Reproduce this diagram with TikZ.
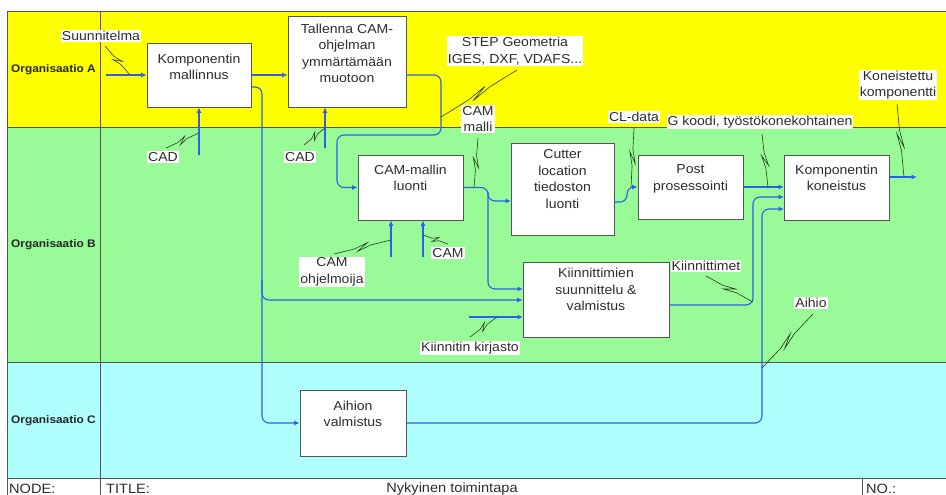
\documentclass[tikz,border=0pt]{standalone}
\usepackage{fontspec}
\setmainfont[FakeStretch=1.08]{Liberation Sans}
\usetikzlibrary{arrows.meta,calc}
\definecolor{laneA}{RGB}{255,255,0}
\definecolor{laneB}{RGB}{152,251,152}
\definecolor{laneC}{RGB}{175,255,255}
\definecolor{flow}{RGB}{45,95,235}
\definecolor{squig}{RGB}{40,60,30}
\definecolor{txt}{RGB}{45,45,45}
\definecolor{frame}{RGB}{85,85,85}
\newcommand\mysquig[2]{\draw[sq] (#1) -- ($(#1)!0.36!(#2)$) -- ($(#1)!0.60!(#2)!3pt!90:(#2)$) -- ($(#1)!0.40!(#2)!3pt!-90:(#2)$) -- ($(#1)!0.64!(#2)$) -- (#2);}
\begin{document}
\begin{tikzpicture}[x=1pt,y=-1pt,
  box/.style={draw=frame, fill=white, line width=0.8pt, inner sep=0pt},
  btxt/.style={font=\fontsize{13}{16.5}\selectfont, text=txt, align=center, inner sep=0pt, anchor=north},
  lbl/.style={font=\fontsize{13}{16.5}\selectfont, text=txt, fill=white, align=center, inner sep=1pt},
  org/.style={font=\fontsize{11}{13}\selectfont\bfseries, text=black!85},
  foot/.style={font=\fontsize{13.5}{16}\selectfont, text=txt, anchor=west, inner sep=0pt},
  flowline/.style={draw=flow, line width=1.1pt, rounded corners=7pt},
  arr/.style={-{Latex[length=5.5pt,width=5pt]}},
  sq/.style={draw=squig, line width=0.6pt},
  lane/.style={draw=frame, line width=0.8pt}
]
\useasboundingbox (0,0) rectangle (946,495);
\fill[white] (0,0) rectangle (946,495);
% lanes
\fill[laneA] (7,11) rectangle (946,127);
\fill[laneB] (7,127) rectangle (946,362);
\fill[laneC] (7,362) rectangle (946,478);
\draw[lane] (7,495) -- (7,11) -- (946,11);
\draw[lane] (7,127) -- (946,127);
\draw[lane] (7,362) -- (946,362);
\draw[lane] (7,478) -- (946,478);
\draw[lane] (100,11) -- (100,495);
\draw[lane] (862,478) -- (862,495);
\node[org] (oa) at (53.5,70) {Organisaatio A};
\node[org] (ob) at (53.5,245) {Organisaatio B};
\node[org] (oc) at (53.5,421) {Organisaatio C};
\node[foot] (fn) at (9,489) {NODE:};
\node[foot] (ft) at (106,489) {TITLE:};
\node[foot, anchor=center] (fx) at (452,489) {Nykyinen toimintapa};
\node[foot] (fo) at (866,489) {NO.:};

% boxes
\node[box, minimum width=104pt, minimum height=64pt] (b1) at (199,75) {};
\node[btxt, yshift=-11pt] (t1) at (b1.north) {Komponentin\\mallinnus};
\node[box, minimum width=118pt, minimum height=91pt] (b2) at (347,61.5) {};
\node[btxt, yshift=-8pt] (t2) at (b2.north) {Tallenna CAM-\\ohjelman\\ymmärtämään\\muotoon};
\node[box, minimum width=105pt, minimum height=65pt] (b3) at (410.5,187.5) {};
\node[btxt, yshift=-10pt] (t3) at (b3.north) {CAM-mallin\\luonti};
\node[box, minimum width=103pt, minimum height=92pt] (b4) at (562.5,189) {};
\node[btxt, yshift=-7pt] (t4) at (b4.north) {Cutter\\location\\tiedoston\\luonti};
\node[box, minimum width=105pt, minimum height=64pt] (b5) at (690.5,187) {};
\node[btxt, yshift=-10pt] (t5) at (b5.north) {Post\\prosessointi};
\node[box, minimum width=105pt, minimum height=65pt] (b6) at (836.5,187.5) {};
\node[btxt, yshift=-10pt] (t6) at (b6.north) {Komponentin\\koneistus};
\node[box, minimum width=146pt, minimum height=75pt] (b7) at (596,300) {};
\node[btxt, yshift=-6pt] (t7) at (b7.north) {Kiinnittimien\\suunnittelu \&\\valmistus};
\node[box, minimum width=106pt, minimum height=66pt] (b8) at (353,423) {};
\node[btxt, yshift=-11pt] (t8) at (b8.north) {Aihion\\valmistus};

% coordinates
\coordinate (in1) at (106,75);
\coordinate (c1) at (199,155);
\coordinate (c2) at (325,148);
\coordinate (c3) at (391,257);
\coordinate (c4) at (423,257);
\coordinate (c5) at (469,317);
\coordinate (o1) at (251,87);
\coordinate (o2) at (406,75);
\coordinate (o4) at (614,202);
\coordinate (o6) at (889,177);
\coordinate (e6) at (917,177);
\coordinate (o7) at (669,305);

% flows
\draw[flowline,arr] (in1) -- (b1.west);
\draw[flowline,arr] (c1) -- (b1.south);
\draw[flowline,arr] (c2) -- (c2 |- b2.south);
\draw[flowline,arr] (b1.east) -- (b1.east -| b2.west);
\draw[flowline,arr] (o1) -- (262,87) -- (262,423) -- (b8.west);
\draw[flowline,arr] (262,280) -- (262,300) -- (b7.west);
\draw[flowline,arr] (o2) -- (441,75) -- (441,135) -- (337,135) -- (337,187.5) -- (b3.west);
\draw[flowline,arr] (c3) -- (c3 |- b3.south);
\draw[flowline,arr] (c4) -- (c4 |- b3.south);
\draw[flowline,arr] (b3.east) -- (488,187.5) -- (488,201) -- (511,201);
\draw[flowline,arr] (488,192) -- (488,289) -- (523,289);
\draw[flowline,arr] (c5) -- (523,317);
\draw[flowline,arr] (o4) -- (627,202) -- (627,187) -- (b5.west);
\draw[flowline,arr] (b5.east) -- (784,187);
\draw[flowline,arr] (o6) -- (e6);
\draw[flowline,arr] (o7) -- (753,305) -- (753,197) -- (784,197);
\draw[flowline,arr] (b8.east) -- (762,423) -- (762,209) -- (784,209);

% labels
\node[lbl] (l1) at (101,36) {Suunnitelma};
\node[lbl] (l2) at (163,157) {CAD};
\node[lbl] (l3) at (300,157) {CAD};
\node[lbl] (l4) at (515,51) {STEP Geometria\\IGES, DXF, VDAFS...};
\node[lbl] (l5) at (478,119) {CAM\\malli};
\node[lbl] (l6) at (634,117) {CL-data};
\node[lbl] (l7) at (760,122) {G koodi, työstökonekohtainen};
\node[lbl] (l8) at (898,85) {Koneistettu\\komponentti};
\node[lbl] (l9) at (332,272) {CAM\\ohjelmoija};
\node[lbl] (l10) at (448,253) {CAM};
\node[lbl] (l11) at (706,266) {Kiinnittimet};
\node[lbl] (l12) at (811,303) {Aihio};
\node[lbl] (l13) at (470,348) {Kiinnitin kirjasto};

% squiggles
\coordinate (s1a) at (105,46); \coordinate (s1b) at (130,75);
\coordinate (s2a) at (166,148); \coordinate (s2b) at (199,133);
\coordinate (s3a) at (304,145); \coordinate (s3b) at (325,128);
\coordinate (s4a) at (517,70); \coordinate (s4b) at (441,117);
\coordinate (s5a) at (478,138); \coordinate (s5b) at (474,187.5);
\coordinate (s6a) at (634,128); \coordinate (s6b) at (631,187);
\coordinate (s7a) at (762,134); \coordinate (s7b) at (768,187);
\coordinate (s8a) at (897,104); \coordinate (s8b) at (904,177);
\coordinate (s9a) at (334,254); \coordinate (s9b) at (391,240);
\coordinate (s10a) at (448,244); \coordinate (s10b) at (423,235);
\coordinate (s11a) at (706,276); \coordinate (s11b) at (753,302);
\coordinate (s12a) at (813,314); \coordinate (s12b) at (762,368);
\coordinate (s13a) at (470,337); \coordinate (s13b) at (497,317);
\mysquig{s1a}{s1b}
\mysquig{s2a}{s2b}
\mysquig{s3a}{s3b}
\mysquig{s4a}{s4b}
\mysquig{s5a}{s5b}
\mysquig{s6a}{s6b}
\mysquig{s7a}{s7b}
\mysquig{s8a}{s8b}
\mysquig{s9a}{s9b}
\mysquig{s10a}{s10b}
\mysquig{s11a}{s11b}
\mysquig{s12a}{s12b}
\mysquig{s13a}{s13b}
\end{tikzpicture}
\end{document}
